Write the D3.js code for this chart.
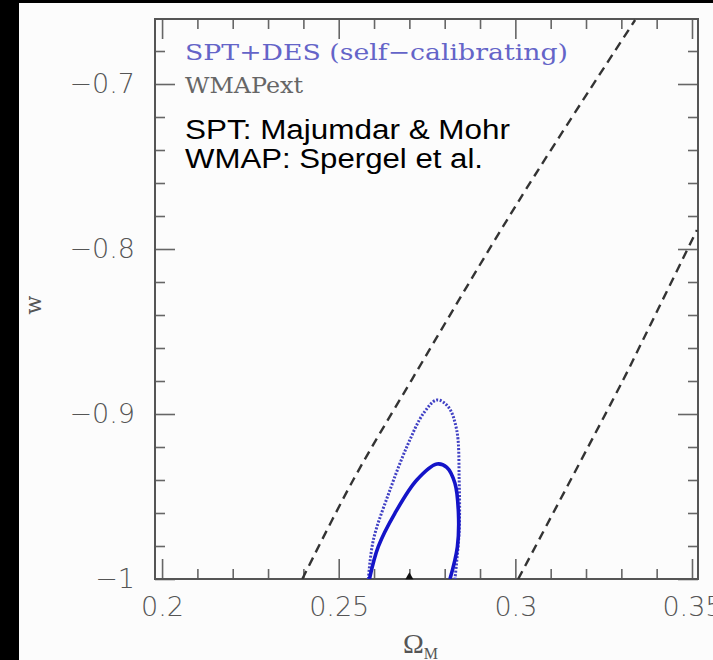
<!DOCTYPE html>
<html>
<head>
<meta charset="utf-8">
<script src="https://cdn.jsdelivr.net/npm/d3@7"></script>
<style>
  html, body { margin: 0; padding: 0; background: #000; }
  svg { display: block; }
</style>
</head>
<body>
<div id="chart"></div>
<script>
var svgWidth = 713;
var svgHeight = 660;

// tick values
var xTicks = [0.2, 0.25, 0.3, 0.35];
var xLabels = ["0.2", "0.25", "0.3", "0.35"];
var yTicks = [-1, -0.9, -0.8, -0.7];
var yLabels = ["\u22121", "\u22120.9", "\u22120.8", "\u22120.7"];
var xMinor = [0.21, 0.22, 0.23, 0.24, 0.26, 0.27, 0.28, 0.29, 0.31, 0.32, 0.33, 0.34];
var yMinor = [-0.98, -0.96, -0.94, -0.92, -0.88, -0.86, -0.84, -0.82, -0.78, -0.76, -0.74, -0.72, -0.68];

// WMAPext dashed boundaries (Omega_M, w)
var wmapLeft = [[0.2397, -1], [0.2541, -0.94], [0.2708, -0.8788], [0.3013, -0.7697], [0.3339, -0.6612]];
var wmapRight = [[0.3008, -1], [0.3305, -0.8794], [0.3361, -0.8552], [0.3514, -0.7885]];

// SPT+DES contours
var sptSolid = [[0.2587, -1], [0.2612, -0.9804], [0.2659, -0.9602], [0.2721, -0.94], [0.2778, -0.9303],
  [0.2806, -0.9323], [0.2829, -0.942], [0.2839, -0.9602], [0.2836, -0.9804], [0.2815, -1]];
var sptDotted = [[0.2584, -1], [0.2598, -0.9764], [0.2645, -0.9461], [0.2693, -0.9198], [0.274, -0.8996],
  [0.2778, -0.8915], [0.281, -0.8956], [0.2834, -0.9097], [0.2841, -0.94], [0.2841, -0.9703], [0.2829, -1]];

// fiducial point
var fiducial = [[0.27, -1]];

var svg = d3.select("#chart")
  .append("svg")
  .attr("width", svgWidth)
  .attr("height", svgHeight);

// white panel over black background
svg.append("rect")
  .attr("x", 19)
  .attr("y", 3)
  .attr("width", svgWidth - 19)
  .attr("height", svgHeight - 3)
  .attr("fill", "#fcfcfc");

var x = d3.scaleLinear().domain([0.198, 0.3517]).range([155, 698]);
var y = d3.scaleLinear().domain([-1, -0.6606]).range([579, 19]);

var tickColor = "#666";

function styleAxis(g) {
  g.select(".domain").remove();
  g.selectAll(".tick line").attr("stroke", tickColor).attr("stroke-width", 1.6);
}

// major ticks, all four sides, pointing inward
svg.append("g").attr("transform", "translate(0,579)")
  .call(d3.axisBottom(x).tickValues(xTicks).tickSize(-20).tickPadding(18)
    .tickFormat(function(d, i) { return xLabels[i]; }))
  .call(styleAxis);
svg.append("g").attr("transform", "translate(0,19)")
  .call(d3.axisTop(x).tickValues(xTicks).tickSize(-20).tickFormat(""))
  .call(styleAxis);
svg.append("g").attr("transform", "translate(155,0)")
  .call(d3.axisLeft(y).tickValues(yTicks).tickSize(-20).tickPadding(20)
    .tickFormat(function(d, i) { return yLabels[i]; }))
  .call(styleAxis);
svg.append("g").attr("transform", "translate(698,0)")
  .call(d3.axisRight(y).tickValues(yTicks).tickSize(-20).tickFormat(""))
  .call(styleAxis);

// minor ticks
svg.append("g").attr("transform", "translate(0,579)")
  .call(d3.axisBottom(x).tickValues(xMinor).tickSize(-10).tickFormat(""))
  .call(styleAxis);
svg.append("g").attr("transform", "translate(0,19)")
  .call(d3.axisTop(x).tickValues(xMinor).tickSize(-10).tickFormat(""))
  .call(styleAxis);
svg.append("g").attr("transform", "translate(155,0)")
  .call(d3.axisLeft(y).tickValues(yMinor).tickSize(-10).tickFormat(""))
  .call(styleAxis);
svg.append("g").attr("transform", "translate(698,0)")
  .call(d3.axisRight(y).tickValues(yMinor).tickSize(-10).tickFormat(""))
  .call(styleAxis);

// tick label font
svg.selectAll(".tick text")
  .attr("font-family", "DejaVu Sans, sans-serif")
  .attr("font-weight", 200)
  .attr("font-size", 27)
  .attr("fill", "#555");

// frame
svg.append("rect")
  .attr("x", 155)
  .attr("y", 19)
  .attr("width", 543)
  .attr("height", 560)
  .attr("fill", "none")
  .attr("stroke", "#555")
  .attr("stroke-width", 2);

svg.append("clipPath").attr("id", "plotclip")
  .append("rect")
  .attr("x", 155).attr("y", 19).attr("width", 543).attr("height", 560);

var plot = svg.append("g").attr("clip-path", "url(#plotclip)");

var smooth = d3.line()
  .curve(d3.curveCatmullRom)
  .x(function(d) { return x(d[0]); })
  .y(function(d) { return y(d[1]); });

// WMAP dashed lines
[wmapLeft, wmapRight].forEach(function(pts) {
  plot.append("path")
    .datum(pts)
    .attr("d", smooth)
    .attr("fill", "none")
    .attr("stroke", "#333")
    .attr("stroke-width", 2.4)
    .attr("stroke-dasharray", "9,6");
});

// dotted contour
plot.append("path")
  .datum(sptDotted)
  .attr("d", smooth)
  .attr("fill", "none")
  .attr("stroke", "#4040c4")
  .attr("stroke-width", 3)
  .attr("stroke-dasharray", "2,1.6");

// solid contour
plot.append("path")
  .datum(sptSolid)
  .attr("d", smooth)
  .attr("fill", "none")
  .attr("stroke", "#1414c8")
  .attr("stroke-width", 3.6);

// fiducial marker
svg.selectAll(".fid")
  .data(fiducial)
  .enter()
  .append("path")
  .attr("class", "fid")
  .attr("transform", function(d) { return "translate(" + x(d[0]) + "," + (y(d[1]) - 2) + ")"; })
  .attr("d", d3.symbol().type(d3.symbolTriangle).size(28))
  .attr("fill", "#111");

// legend text
svg.append("text")
  .attr("x", 185)
  .attr("y", 60)
  .attr("font-family", "DejaVu Serif, serif")
  .attr("font-size", 23)
  .attr("fill", "#6464c8")
  .attr("textLength", 383)
  .attr("lengthAdjust", "spacingAndGlyphs")
  .text("SPT+DES (self\u2212calibrating)");

svg.append("text")
  .attr("x", 185)
  .attr("y", 93)
  .attr("font-family", "DejaVu Serif, serif")
  .attr("font-size", 23)
  .attr("fill", "#666")
  .attr("textLength", 118)
  .attr("lengthAdjust", "spacingAndGlyphs")
  .text("WMAPext");

svg.append("text")
  .attr("x", 185)
  .attr("y", 139)
  .attr("font-family", "Liberation Sans, Arial, sans-serif")
  .attr("font-size", 27)
  .attr("fill", "#000")
  .attr("textLength", 325)
  .attr("lengthAdjust", "spacingAndGlyphs")
  .text("SPT: Majumdar & Mohr");

svg.append("text")
  .attr("x", 185)
  .attr("y", 168)
  .attr("font-family", "Liberation Sans, Arial, sans-serif")
  .attr("font-size", 27)
  .attr("fill", "#000")
  .attr("textLength", 298)
  .attr("lengthAdjust", "spacingAndGlyphs")
  .text("WMAP: Spergel et al.");

// axis titles
var xTitle = svg.append("text")
  .attr("x", 403)
  .attr("y", 653)
  .attr("font-family", "Liberation Serif, serif")
  .attr("font-size", 28)
  .attr("fill", "#555");
xTitle.append("tspan").text("\u03a9");
xTitle.append("tspan").attr("font-size", 16).attr("dy", 6).text("M");

svg.append("text")
  .attr("transform", "translate(41,305) rotate(-90)")
  .attr("text-anchor", "middle")
  .attr("font-family", "DejaVu Serif, serif")
  .attr("font-size", 22)
  .attr("fill", "#555")
  .text("w");
</script>
</body>
</html>
